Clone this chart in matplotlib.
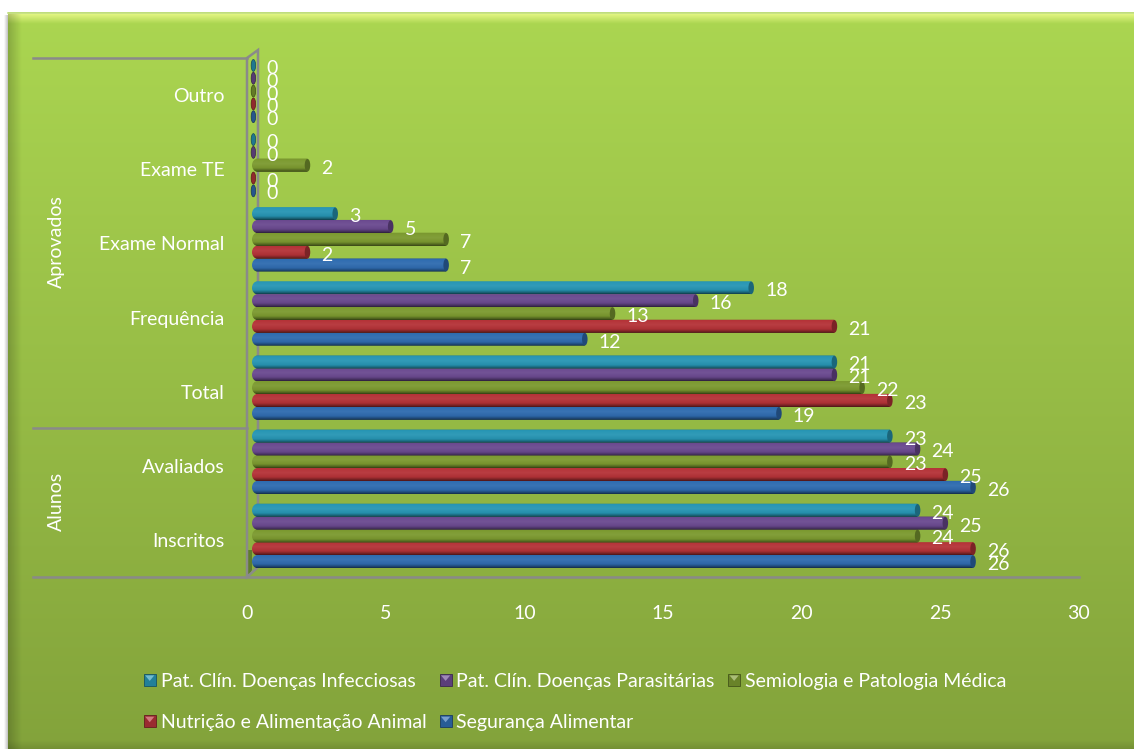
import matplotlib
matplotlib.use("Agg")
import matplotlib.pyplot as plt
import numpy as np
from matplotlib.legend_handler import HandlerBase
from matplotlib.lines import Line2D
from matplotlib.patches import Ellipse, PathPatch, Polygon, Rectangle
from matplotlib.path import Path
from matplotlib.transforms import Affine2D

W, H = 1134, 749

categories = ["Inscritos", "Avaliados", "Total", "Frequência",
              "Exame Normal", "Exame TE", "Outro"]
seguranca = [26, 26, 19, 12, 7, 0, 0]
nutricao = [26, 25, 23, 21, 2, 0, 0]
semiologia = [24, 23, 22, 13, 7, 2, 0]
parasitarias = [25, 24, 21, 16, 5, 0, 0]
infecciosas = [24, 23, 21, 18, 3, 0, 0]

series_names = ["Segurança Alimentar", "Nutrição e Alimentação Animal",
                "Semiologia e Patologia Médica",
                "Pat. Clín. Doenças Parasitárias",
                "Pat. Clín. Doenças Infecciosas"]
series_values = [seguranca, nutricao, semiologia, parasitarias, infecciosas]
series_colors = ["#2f6cb0", "#b53338", "#7c9a30", "#6b4a90", "#2796b4"]

x_ticks = [0, 5, 10, 15, 20, 25, 30]

plt.rcParams["font.family"] = ["Lato", "DejaVu Sans"]
FONT = 14
GREY = "#8a8a8a"
BAR_H = 0.178


def hex_rgb(c):
    return np.array(matplotlib.colors.to_rgb(c))


def shade(c, f):
    rgb = hex_rgb(c)
    if f <= 1:
        return rgb * f
    return rgb + (1 - rgb) * (f - 1)


def cylinder(c):
    # vertical shading of a bar, top to bottom
    pos = [0, 0.08, 0.4, 0.72, 0.92, 1]
    fac = [0.85, 1.0, 1.05, 0.95, 0.62, 0.42]
    rows = np.linspace(0, 1, 32)
    cols = np.array([shade(c, f) for f in fac])
    return np.stack([np.interp(rows, pos, cols[:, i]) for i in range(3)], axis=1)[:, None, :]


def bar_outline(v, y, h, r):
    x0, x1 = 0, v
    y0, y1 = y - h / 2, y + h / 2
    k = 0.55
    verts = [(x0 + r, y0), (x1, y0),
             (x1, y0), (x1, y1), (x1, y1),
             (x0 + r, y1),
             (x0 + r * (1 - k), y1), (x0, y + h / 2 * k), (x0, y),
             (x0, y - h / 2 * k), (x0 + r * (1 - k), y0), (x0 + r, y0)]
    codes = [Path.MOVETO, Path.LINETO,
             Path.LINETO, Path.LINETO, Path.LINETO,
             Path.LINETO,
             Path.CURVE4, Path.CURVE4, Path.CURVE4,
             Path.CURVE4, Path.CURVE4, Path.CURVE4]
    return Path(verts, codes)


def fade(color, a0, a1, n=32, horizontal=False):
    # RGBA strip whose alpha runs from a0 to a1
    rgba = np.ones((n, 1, 4))
    rgba[:, :, :3] = hex_rgb(color)
    rgba[:, 0, 3] = np.linspace(a0, a1, n)
    return np.transpose(rgba, (1, 0, 2)) if horizontal else rgba


class BevelSquare(HandlerBase):
    # legend key drawn as a small bevelled square
    def create_artists(self, legend, orig, xd, yd, width, height, fontsize, trans):
        c = orig.get_color()
        s = 12 * 72 / 100
        x0 = xd * -1 + width - s
        y0 = -yd + (height - s) / 2
        base = Rectangle((x0, y0), s, s, fc=shade(c, 0.85), ec=shade(c, 0.55), lw=0.6, transform=trans)
        top = Polygon([(x0 + 1, y0 + s - 1), (x0 + s - 1, y0 + s - 1), (x0 + s / 2, y0 + s * 0.42)],
                      fc=shade(c, 1.35), ec="none", transform=trans)
        return [base, top]


fig = plt.figure(figsize=(W / 100, H / 100), dpi=100, facecolor="white")

# panel background with its bevelled edge, laid out in pixels
bg = fig.add_axes([0, 0, 1, 1], zorder=0)
bg.axis("off")
t = np.linspace(0, 1, 256)
top_c, bot_c = hex_rgb("#abd651"), hex_rgb("#83a33b")
grad = np.stack([top_c[i] + (bot_c[i] - top_c[i]) * t for i in range(3)], axis=1)[:, None, :]
bg.imshow(grad, extent=[8, W, H, 12], aspect="auto", zorder=1)
bg.imshow(fade("#f4ff90", 0.85, 0), extent=[8, W, 24, 13], aspect="auto", zorder=2)
bg.imshow(fade("#000000", 0.2, 0, horizontal=True), extent=[8, 22, H, 13], aspect="auto", zorder=2)
bg.imshow(fade("#000000", 0, 0.12), extent=[8, W, H, H - 9], aspect="auto", zorder=2)
bg.imshow(fade("#808080", 0, 0.5, horizontal=True), extent=[4, 8, H, 15], aspect="auto", zorder=1)
bg.plot([8, W], [12.5, 12.5], color="#c4df86", lw=1.2, zorder=3)
bg.set_xlim(0, W)
bg.set_ylim(H, 0)

# axes walls and category brackets
bg.add_patch(Polygon([(248, 577), (248, 550), (252, 550), (252, 570)], fc="#5f7d2c", ec="none", zorder=3))
bg.add_patch(Polygon([(247, 577), (247, 58), (258, 50), (258, 567)], fc="none", ec=GREY, lw=1.8, zorder=4))
bg.plot([33, 1079], [577, 577], color=GREY, lw=1.8, zorder=4)
bg.plot([33, 247], [58, 58], color=GREY, lw=1.8, zorder=4)
bg.plot([33, 247], [428, 428], color=GREY, lw=1.8, zorder=4)

ax = fig.add_axes([247 / W, 1 - 577 / H, (1079 - 247) / W, (577 - 58) / H], zorder=2)
ax.patch.set_alpha(0)
ax.set_xlim(0, 30)
ax.set_ylim(-0.5, 6.5)
for sp in ax.spines.values():
    sp.set_visible(False)
ax.set_xticks(x_ticks)
ax.set_yticks(range(len(categories)))
ax.set_yticklabels(categories)
ax.tick_params(axis="both", length=0, labelcolor="white", labelsize=FONT)
ax.tick_params(axis="x", pad=20)
ax.tick_params(axis="y", pad=16)

# bars sit a few pixels up and right of the axes, on the 3D floor
lift = ax.transData + Affine2D().translate(5, 4)
n = len(series_values)
for s, (vals, col) in enumerate(zip(series_values, series_colors)):
    img = cylinder(col)
    for i, v in enumerate(vals):
        y = i + (s - (n - 1) / 2) * 0.173
        if v == 0:
            ax.add_patch(Ellipse((0.05, y), 0.16, BAR_H * 0.9, fc=shade(col, 0.8),
                                 ec=shade(col, 0.5), lw=0.5, transform=lift, clip_on=False, zorder=3))
        else:
            im = ax.imshow(img, extent=[0, v, y - BAR_H / 2, y + BAR_H / 2], aspect="auto",
                           origin="upper", transform=lift, zorder=3 + 0.01 * s, clip_on=True)
            im.set_clip_path(PathPatch(bar_outline(v, y, BAR_H, 0.2), transform=lift))
            ax.add_patch(Ellipse((v, y), 0.2, BAR_H * 0.96, fc=shade(col, 0.68), ec="none",
                                 transform=lift, zorder=3 + 0.01 * s, clip_on=False))
        ax.annotate(str(v), (v, y), xytext=(5 + 14, 1), textcoords="offset pixels",
                    ha="left", va="center", color="white", fontsize=FONT, zorder=6,
                    annotation_clip=False)
ax.set_xlim(0, 30)
ax.set_ylim(-0.5, 6.5)

# outer level of the category axis
fig.text(56 / W, 1 - 501 / H, "Alunos", rotation=90, color="white", fontsize=FONT,
         ha="center", va="center")
fig.text(56 / W, 1 - 242 / H, "Aprovados", rotation=90, color="white", fontsize=FONT,
         ha="center", va="center")

# column-first fill gives the two-row arrangement
order = [4, 1, 3, 0, 2]
handles = [Line2D([], [], color=series_colors[k]) for k in order]
labels = [series_names[k] for k in order]
leg = fig.legend(handles, labels, ncol=3, frameon=False, fontsize=FONT, labelcolor="white",
                 loc="upper left", bbox_to_anchor=(128.5 / W, 1 - 665 / H), borderaxespad=0,
                 handler_map={Line2D: BevelSquare()}, handlelength=1.0, handletextpad=0.25,
                 labelspacing=1.25, columnspacing=0.3)
leg.set_zorder(5)

fig.savefig("out.png", dpi=100)
